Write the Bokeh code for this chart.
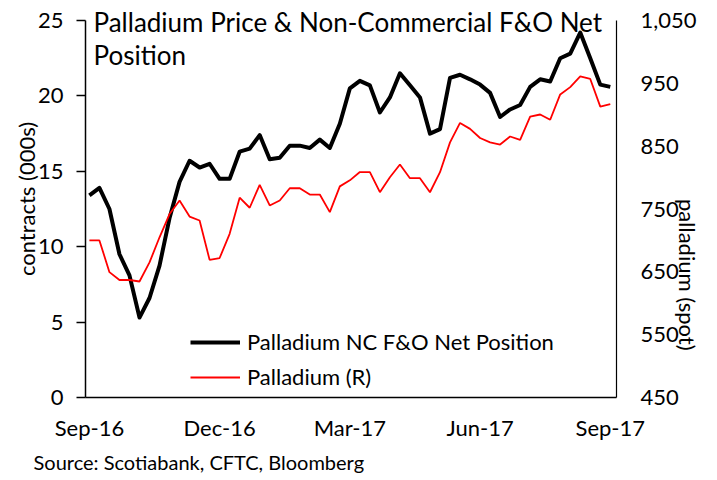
import math
from bokeh.plotting import figure
from bokeh.models import (Range1d, LinearAxis, FixedTicker, NumeralTickFormatter,
                          Label, Legend, LegendItem, Title)
from bokeh.embed import file_html
from bokeh.resources import INLINE

# ---- data (weekly, Sep-2016 .. Sep-2017) ----
tick_labels = ["Sep-16", "Dec-16", "Mar-17", "Jun-17", "Sep-17"]
tick_weeks = [0, 13, 26, 39, 52]

nc_net_position = [13.4, 13.9, 12.5, 9.5, 8.1, 5.3, 6.6, 8.75, 11.9, 14.3, 15.7, 15.25,
                   15.5, 14.5, 14.5, 16.3, 16.5, 17.4, 15.8, 15.9, 16.7, 16.7, 16.55, 17.1,
                   16.55, 18.15, 20.5, 21.0, 20.7, 18.9, 19.9, 21.5, 20.7, 19.9, 17.5, 17.8,
                   21.2, 21.4, 21.1, 20.75, 20.2, 18.6, 19.1, 19.4, 20.6, 21.1, 20.95, 22.5,
                   22.8, 24.2, 22.5, 20.75, 20.6]
palladium_spot = [700, 700, 649.5, 637, 637, 634.6, 665, 705, 742, 763.5, 738, 731.7,
                  669, 672, 710.5, 768, 752, 788.5, 755.6, 763.5, 783, 783, 773, 773,
                  745, 786, 795.6, 808.8, 808.8, 776.7, 800.5, 820.8, 799, 799, 776.7, 808.6,
                  856, 887, 877.5, 863, 856, 852.6, 865.4, 860, 897, 900.4, 892, 932.3,
                  944, 961, 957, 913, 917]
left_ticks = [0, 5, 10, 15, 20, 25]
right_ticks = [450, 550, 650, 750, 850, 950, 1050]

weeks = list(range(len(nc_net_position)))

FONT = "Lato"
TICK_SIZE = "22px"

# frame spans the full height above the x axis; the axes themselves stop at 25 / 1,050
p = figure(width=717, height=480, output_backend="svg", toolbar_location=None,
           x_range=Range1d(-0.39, 52.62), y_range=Range1d(0, 25 * 397 / 377),
           min_border_left=85, min_border_right=94, min_border_top=0, min_border_bottom=83,
           outline_line_color=None, background_fill_color="white", border_fill_color="white")
p.extra_y_ranges = {"r": Range1d(450, 450 + 600 * 397 / 377)}
p.xgrid.visible = False
p.ygrid.visible = False

# x axis
xa = p.xaxis[0]
xa.ticker = FixedTicker(ticks=tick_weeks)
xa.major_label_overrides = {w: l for w, l in zip(tick_weeks, tick_labels)}
xa.major_tick_out = 0
xa.major_tick_in = 0
xa.minor_tick_out = 0
xa.minor_tick_in = 0
xa.axis_line_width = 1.5
xa.axis_line_color = "black"
xa.major_label_standoff = 16
xa.major_label_text_font = FONT
xa.major_label_text_font_size = TICK_SIZE
xa.major_label_text_color = "black"

# left axis
ya = p.yaxis[0]
ya.ticker = FixedTicker(ticks=left_ticks)
ya.bounds = (left_ticks[0], left_ticks[-1])
ya.major_tick_out = 9
ya.major_tick_in = 0
ya.minor_tick_out = 0
ya.minor_tick_in = 0
ya.major_tick_line_width = 1.5
ya.axis_line_width = 1.5
ya.axis_line_color = "black"
ya.major_label_standoff = 13
ya.major_label_text_font = FONT
ya.major_label_text_font_size = TICK_SIZE
ya.major_label_text_color = "black"
ya.axis_label = "contracts (000s)"
ya.axis_label_text_font = FONT
ya.axis_label_text_font_size = "22px"
ya.axis_label_text_font_style = "normal"
ya.axis_label_text_color = "black"
ya.axis_label_standoff = -5

# right axis
ra = LinearAxis(y_range_name="r", ticker=FixedTicker(ticks=right_ticks),
                formatter=NumeralTickFormatter(format="0,0"),
                bounds=(right_ticks[0], right_ticks[-1]))
ra.major_tick_out = 0
ra.major_tick_in = 0
ra.minor_tick_out = 0
ra.minor_tick_in = 0
ra.axis_line_width = 1.2
ra.axis_line_color = "black"
ra.major_label_standoff = 24
ra.major_label_text_font = FONT
ra.major_label_text_font_size = TICK_SIZE
ra.major_label_text_color = "black"
ra.axis_label = "palladium (spot)"
ra.axis_label_text_font = FONT
ra.axis_label_text_font_size = "22px"
ra.axis_label_text_font_style = "normal"
ra.axis_label_text_color = "black"
ra.axis_label_orientation = -math.pi / 2
ra.axis_label_standoff = -12
p.add_layout(ra, "right")

r_black = p.line(weeks, nc_net_position, line_width=4, line_color="black", line_join="round")
r_red = p.line(weeks, palladium_spot, y_range_name="r", line_width=1.8, line_color="#ff0000")

legend = Legend(items=[LegendItem(label="Palladium NC F&O Net Position", renderers=[r_black]),
                       LegendItem(label="Palladium (R)", renderers=[r_red])],
                location=(105, 7), glyph_width=50, glyph_height=20, label_height=20,
                label_standoff=7, padding=0, margin=0, spacing=8,
                border_line_color=None, background_fill_alpha=0,
                label_text_font=FONT, label_text_font_size=TICK_SIZE, label_text_color="black")
p.add_layout(legend)

# title inside plot
p.add_layout(Label(x=8, y=376, x_units="screen", y_units="screen",
                   text="Palladium Price & Non-Commercial  F&O Net",
                   text_font=FONT, text_font_size="26px", text_baseline="alphabetic",
                   text_color="black"))
p.add_layout(Label(x=8, y=343, x_units="screen", y_units="screen", text="Position",
                   text_font=FONT, text_font_size="26px", text_baseline="alphabetic",
                   text_color="black"))

# source
p.add_layout(Title(text="Source: Scotiabank, CFTC, Bloomberg", align="left", offset=-52,
                   standoff=8, text_font=FONT, text_font_size="20px",
                   text_font_style="normal", text_color="black"), "below")

open("out.html", "w").write(file_html(p, INLINE))
